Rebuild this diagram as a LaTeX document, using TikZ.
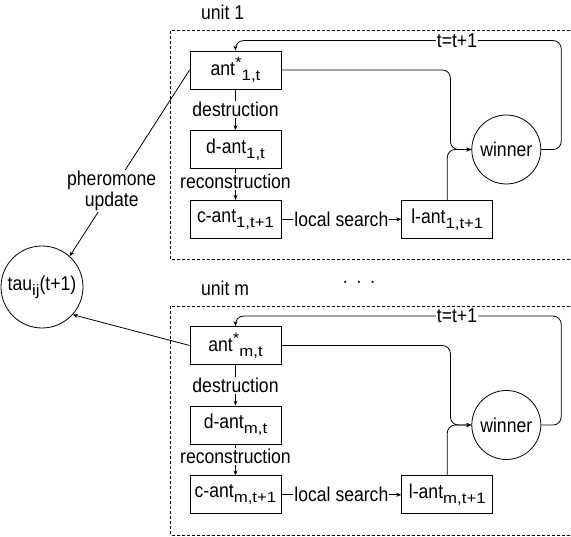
\documentclass[tikz,border=0pt]{standalone}
\usepackage{fontspec}
\setmainfont[FakeStretch=0.88]{Liberation Sans}
\newfontfamily\subfont[FakeStretch=1.12]{Liberation Sans}
\usetikzlibrary{arrows.meta,positioning,calc}
\newcommand\lo[1]{\raisebox{-5pt}{\subfont\fontsize{15}{15}\selectfont#1}}
\newcommand\hi[1]{\raisebox{8pt}{\subfont\fontsize{15}{15}\selectfont#1}}
\tikzset{
  antbox/.style={rectangle, draw, line width=0.8pt, minimum width=91pt,
                 minimum height=38pt, inner sep=0pt, align=center},
  winnode/.style={circle, draw, line width=0.8pt, minimum size=69pt, inner sep=0pt},
  tauode/.style={circle, draw, line width=0.8pt, minimum size=82pt, inner sep=0pt},
  lbl/.style={fill=white, inner sep=1pt, align=center},
  arrow/.style={-{Stealth[length=5pt,width=4pt]}, line width=0.8pt},
  unitframe/.style={draw, line width=0.7pt, dash pattern=on 3pt off 2pt}
}
\begin{document}
\begin{tikzpicture}[x=1pt, y=1pt, font=\fontsize{20}{21}\selectfont]
\useasboundingbox (0,0) rectangle (571,537);
\node[tauode] (tau) at (42,250) {tau\lo{ij}(t+1)};
\node (dots) at (359,254) {$\cdot\,\cdot\,\cdot$};
\foreach \u/\y in {1/467, m/191.5} {
  % one unit
  \node[antbox] (ant\u) at (235.5,\y) {ant\hi{*}\lo{\u,t}};
  \node[antbox, below=40.7pt of ant\u] (dant\u) {d-ant\lo{\u,t}};
  \node[antbox, below=31pt of dant\u] (cant\u) {c-ant\lo{\u,t+1}};
  \node[antbox, right=120pt of cant\u] (lant\u) {l-ant\lo{\u,t+1}};
  \node[winnode, right=190pt of dant\u] (win\u) {winner};
  \node[anchor=west] (unit\u) at ([shift={(8pt,38pt)}]ant\u.north west) {unit \u};
  \draw[unitframe] ([shift={(-19pt,20pt)}]ant\u.north west) rectangle
       ($(win\u.east |- lant\u.south)+(30pt,-21pt)$);
  \draw[arrow] (ant\u) -- (dant\u) node[lbl, midway] {destruction};
  \draw[arrow] (dant\u) -- (cant\u) node[lbl, pos=0.4] {reconstruction};
  \draw[arrow] (cant\u) -- (lant\u) node[lbl, midway] {local search};
  \draw[arrow, rounded corners=8pt] (ant\u.east) -| ([xshift=-21pt]win\u.west) -- (win\u.west);
  \draw[arrow, rounded corners=8pt] (lant\u.north) |- (win\u.west);
  \draw[arrow, rounded corners=8pt] (win\u.east) -- ++(20pt,0)
       |- ([yshift=10pt]ant\u.north) node[lbl, pos=0.66] {t=t+1} -- (ant\u.north);
}
\draw[arrow] (ant1.west) -- (tau.48) node[lbl, pos=0.65] {pheromone\\update};
\draw[arrow] (antm.west) -- (tau.-42);
\end{tikzpicture}
\end{document}
